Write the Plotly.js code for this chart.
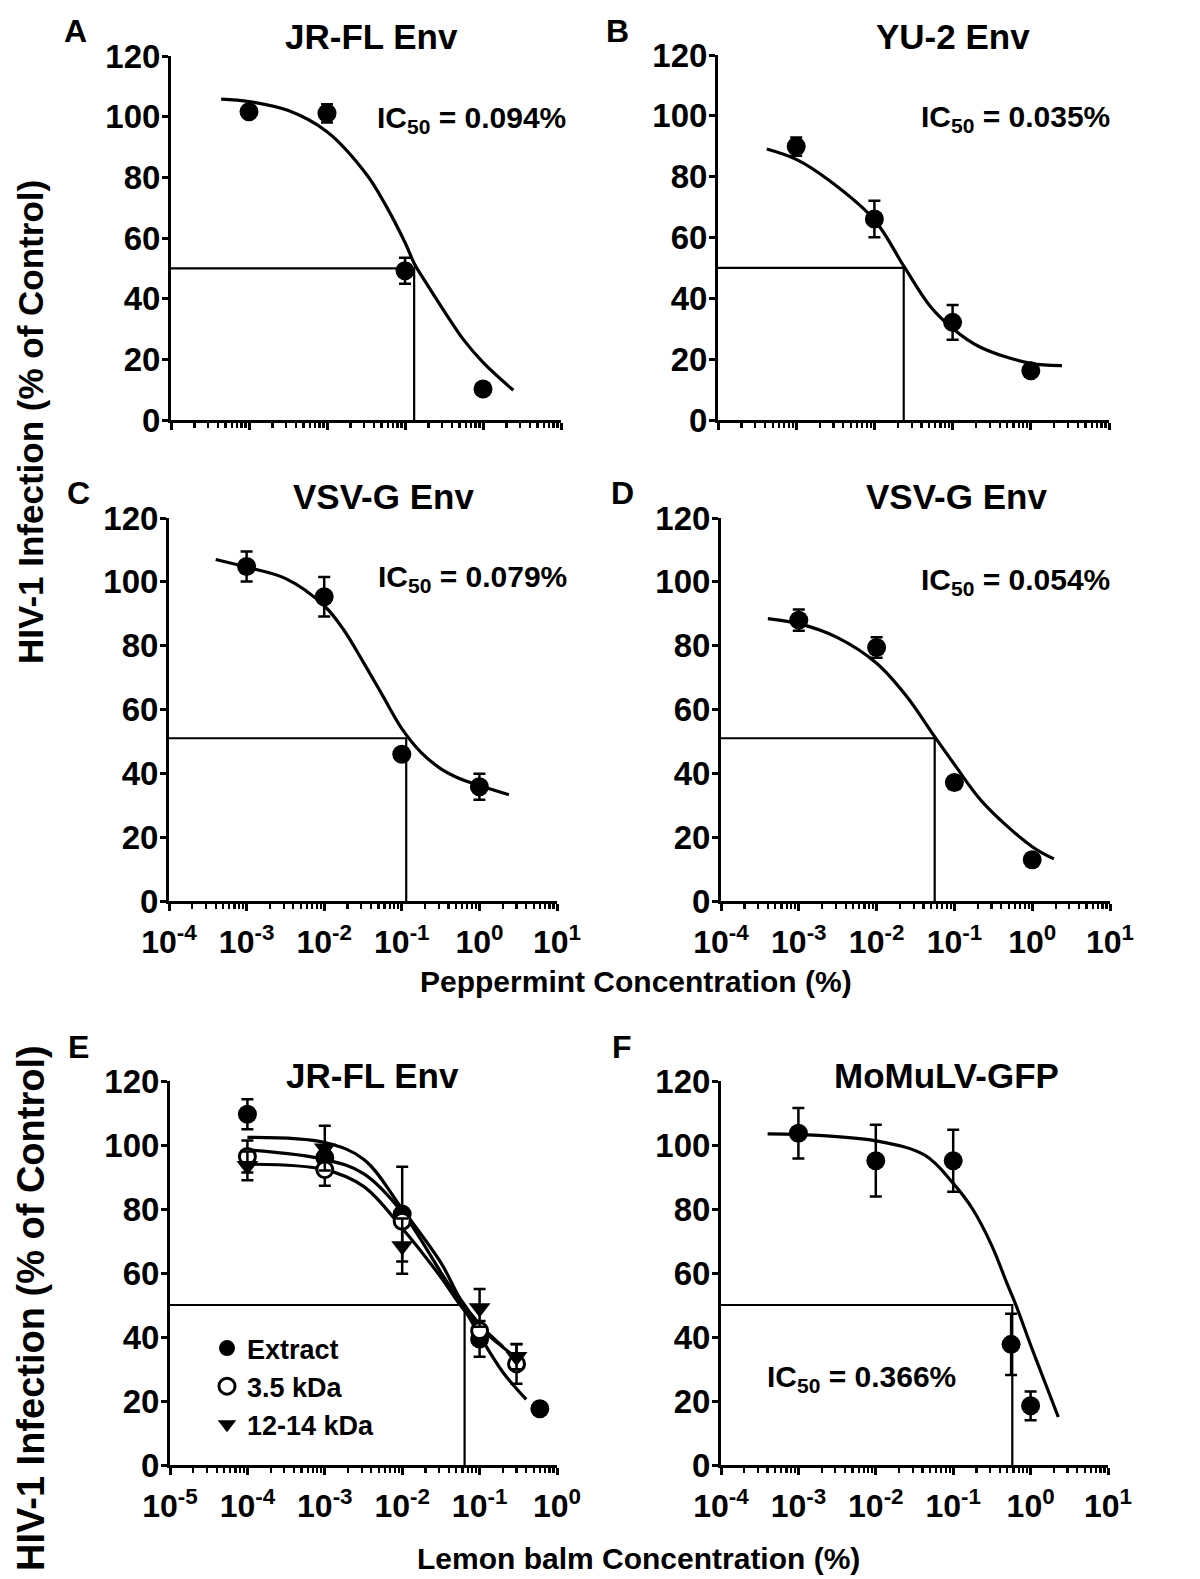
<!DOCTYPE html>
<html><head><meta charset="utf-8">
<script src="https://cdn.plot.ly/plotly-3.0.1.min.js"></script>
<style>html,body{margin:0;padding:0;background:#fff;}#chart{width:1200px;height:1579px;}</style>
</head><body><div id="chart"></div><script>
// ---------------- DATA ----------------
// Panel A: JR-FL Env (peppermint)
const aConc = [0.001, 0.01, 0.1, 1];
const aVal  = [101.6, 101.1, 49.2, 10.2];
const aErr  = [0, 3, 4.3, 0];
const aFitX = [4.4e-4, 1e-3, 3.2e-3, 1e-2, 3.2e-2, 5.6e-2, 0.1, 0.132, 0.178, 0.316, 0.562, 1.0, 2.45];
const aFitY = [105.8, 105.0, 102.0, 95.0, 81.0, 71.0, 58.5, 51.5, 46.0, 36.0, 26.5, 19.0, 9.8];
const aIC = 0.131, aLevel = 50, aText = 'IC<sub>50</sub> = 0.094%';

// Panel B: YU-2 Env (peppermint)
const bConc = [0.001, 0.01, 0.1, 1];
const bVal  = [89.9, 66.1, 32.1, 16.2];
const bErr  = [3, 6, 5.7, 0];
const bFitX = [4.2e-4, 1e-3, 2.6e-3, 1e-2, 2.4e-2, 5.2e-2, 0.1, 0.22, 1.0, 2.5];
const bFitY = [89.1, 85.7, 78.9, 65.8, 50.4, 37.3, 30.1, 24.1, 18.6, 17.9];
const bIC = 0.0237, bLevel = 50, bText = 'IC<sub>50</sub> = 0.035%';

// Panel C: VSV-G Env (peppermint)
const cConc = [0.001, 0.01, 0.1, 1];
const cVal  = [104.8, 95.3, 46.0, 35.8];
const cErr  = [4.7, 6.2, 0, 4.1];
const cFitX = [4.0e-4, 1e-3, 3.2e-3, 1e-2, 1.78e-2, 3.16e-2, 5.62e-2, 0.1, 0.178, 0.316, 0.562, 1.0, 2.4];
const cFitY = [107.0, 104.6, 101.0, 92.5, 85.0, 75.0, 64.5, 54.0, 46.5, 41.5, 38.3, 36.2, 33.3];
const cIC = 0.114, cLevel = 51, cText = 'IC<sub>50</sub> = 0.079%';

// Panel D: VSV-G Env (peppermint)
const dConc = [0.001, 0.01, 0.1, 1];
const dVal  = [88.0, 79.4, 37.1, 12.9];
const dErr  = [3.3, 3.2, 0, 2];
const dFitX = [4.0e-4, 1e-3, 3.1e-3, 1e-2, 2.4e-2, 5.6e-2, 0.1, 0.23, 1.0, 1.9];
const dFitY = [88.5, 86.9, 82.6, 74.5, 64.3, 51.4, 42.8, 31.0, 17.0, 13.2];
const dIC = 0.0558, dLevel = 51, dText = 'IC<sub>50</sub> = 0.054%';

// Panel E: JR-FL Env (lemon balm), three preparations
const eExtractConc = [1e-4, 1e-3, 1e-2, 1e-1, 0.6];
const eExtractVal  = [109.6, 96, 78.4, 39.4, 17.6];
const eExtractErr  = [4.7, 0, 14.8, 5.6, 0];
const eSmallConc   = [1e-4, 1e-3, 1e-2, 1e-1, 0.3];
const eSmallVal    = [96.4, 92.3, 76.2, 42, 31.6];
const eSmallErr    = [5, 5, 0, 0, 6.2];
const eLargeConc   = [1e-4, 1e-3, 1e-2, 1e-1, 0.3];
const eLargeVal    = [93.5, 99, 68.4, 49.1, 33.8];
const eLargeErr    = [4.5, 7, 8.6, 5.9, 3.9];
const eExtractFitX = [1e-4, 1e-3, 3.2e-3, 1e-2, 3.2e-2, 5.6e-2, 0.1, 0.2, 0.4];
const eExtractFitY = [98.5, 95.5, 91, 79, 60, 51, 40.5, 29, 20.5];
const eSmallFitX   = [1e-4, 1e-3, 3.2e-3, 1e-2, 3.2e-2, 5.6e-2, 0.1, 0.28];
const eSmallFitY   = [94, 92.3, 87, 74, 58.5, 50, 43, 34];
const eLargeFitX   = [1e-4, 1e-3, 3.2e-3, 1e-2, 3.2e-2, 5.6e-2, 0.1, 0.2];
const eLargeFitY   = [102.4, 100.8, 95.5, 80, 63, 52, 44, 37];
const eIC = 0.064, eLevel = 50;
const eNames = ['Extract', '3.5 kDa', '12-14 kDa'];

// Panel F: MoMuLV-GFP (lemon balm)
const fConc = [0.001, 0.01, 0.1, 0.56, 1.0];
const fVal  = [103.7, 95.1, 95.1, 37.7, 18.5];
const fErr  = [7.9, 11.2, 9.7, 9.6, 4.5];
const fFitX = [4.0e-4, 1e-3, 1e-2, 4.3e-2, 0.1, 0.178, 0.316, 0.5, 0.646, 1.0, 1.58, 2.28];
const fFitY = [103.5, 103.3, 101.3, 96.8, 88.0, 80.0, 68.5, 56.5, 50.0, 37.5, 25.0, 15.0];
const fIC = 0.58, fLevel = 50, fText = 'IC<sub>50</sub> = 0.366%';

// Titles and tick labels
const panelTitles = ['JR-FL Env', 'YU-2 Env', 'VSV-G Env', 'VSV-G Env', 'JR-FL Env', 'MoMuLV-GFP'];
const panelLetters = ['A', 'B', 'C', 'D', 'E', 'F'];
const yTicks = [0, 20, 40, 60, 80, 100, 120];
const decadesPep = [1e-4, 1e-3, 1e-2, 1e-1, 1e0, 1e1];
const decadesPepText = ['10<sup>-4</sup>', '10<sup>-3</sup>', '10<sup>-2</sup>', '10<sup>-1</sup>', '10<sup>0</sup>', '10<sup>1</sup>'];
const decadesLem = [1e-5, 1e-4, 1e-3, 1e-2, 1e-1, 1e0];
const decadesLemText = ['10<sup>-5</sup>', '10<sup>-4</sup>', '10<sup>-3</sup>', '10<sup>-2</sup>', '10<sup>-1</sup>', '10<sup>0</sup>'];
const yTitle = 'HIV-1 Infection (% of Control)';
const xTitlePep = 'Peppermint Concentration (%)';
const xTitleLem = 'Lemon balm Concentration (%)';

// ---------------- LAYOUT GEOMETRY ----------------
const W = 1200, H = 1579;
const FONT = 'Liberation Sans, Arial, Helvetica, sans-serif';
const fx = p => p / W;
const fy = p => (H - p) / H;

const panels = [
  {px: [171, 561], py: [56, 420],   xr: [-4, 1], dec: decadesPep, decText: decadesPepText, labels: false},
  {px: [718, 1109], py: [55, 420],  xr: [-4, 1], dec: decadesPep, decText: decadesPepText, labels: false},
  {px: [169, 557], py: [518, 901],  xr: [-4, 1], dec: decadesPep, decText: decadesPepText, labels: true},
  {px: [721, 1110], py: [518, 901], xr: [-4, 1], dec: decadesPep, decText: decadesPepText, labels: true},
  {px: [170, 557], py: [1081, 1465], xr: [-5, 0], dec: decadesLem, decText: decadesLemText, labels: true},
  {px: [721, 1108], py: [1081, 1465], xr: [-4, 1], dec: decadesPep, decText: decadesPepText, labels: true}
];

function minorVals(dec) {
  const out = [];
  dec.forEach(d => { for (let m = 2; m <= 9; m++) out.push(d * m); });
  return out;
}

const layout = {
  width: W, height: H,
  margin: {l: 0, r: 0, t: 0, b: 0},
  paper_bgcolor: '#ffffff', plot_bgcolor: 'rgba(0,0,0,0)',
  font: {family: FONT, color: '#000', size: 30, weight: 700},
  showlegend: true,
  legend: {
    x: fx(207), y: fy(1324), xanchor: 'left', yanchor: 'top',
    bgcolor: 'rgba(0,0,0,0)', borderwidth: 0,
    font: {family: FONT, size: 27, color: '#000', weight: 700},
    itemwidth: 30, tracegroupgap: 0
  },
  annotations: [],
  shapes: []
};

panels.forEach((p, i) => {
  const n = i === 0 ? '' : String(i + 1);
  layout['xaxis' + n] = {
    type: 'log', range: p.xr, domain: [fx(p.px[0]), fx(p.px[1])],
    anchor: 'y' + n, showgrid: false, zeroline: false,
    showline: true, linecolor: '#000', linewidth: 3,
    ticks: 'outside', ticklen: 7, tickwidth: 3, tickcolor: '#000',
    tickmode: 'array', tickvals: p.dec, ticktext: p.decText,
    showticklabels: p.labels, ticklabelstandoff: 4,
    tickfont: {family: FONT, size: 32, color: '#000', weight: 700},
    minor: {tickmode: 'array', tickvals: minorVals(p.dec.slice(0, 5)), ticks: 'outside', ticklen: 5, tickwidth: 2.2, tickcolor: '#000', showgrid: false}
  };
  layout['yaxis' + n] = {
    range: [0, 120], domain: [fy(p.py[1]), fy(p.py[0])],
    anchor: 'x' + n, showgrid: false, zeroline: false,
    showline: true, linecolor: '#000', linewidth: 3,
    ticks: 'outside', ticklen: 6, tickwidth: 3, tickcolor: '#000',
    tickmode: 'array', tickvals: yTicks, ticklabelstandoff: -5,
    tickfont: {family: FONT, size: 33, color: '#000', weight: 700}
  };
});

// panel titles (pixel centres measured on the figure)
const titleCx = [371, 953, 383, 956, 372, 946];
const titleCy = [36, 36, 496, 496, 1075, 1075];
panelTitles.forEach((t, i) => layout.annotations.push({
  xref: 'paper', yref: 'paper', x: fx(titleCx[i]), y: fy(titleCy[i]),
  text: t, showarrow: false, xanchor: 'center', yanchor: 'middle',
  font: {family: FONT, size: 35, color: '#000', weight: 700}
}));

// panel letters
const letterPos = [[75, 31], [617, 31], [78, 493], [622, 493], [79, 1047], [622, 1047]];
panelLetters.forEach((L, i) => layout.annotations.push({
  xref: 'paper', yref: 'paper', x: fx(letterPos[i][0]), y: fy(letterPos[i][1]),
  text: L, showarrow: false, xanchor: 'center', yanchor: 'middle',
  font: {family: FONT, size: 32, color: '#000', weight: 700}
}));

// IC50 labels
const icLabels = [
  {n: '',  text: aText, x: 471, y: 99},
  {n: '2', text: bText, x: 1015, y: 99},
  {n: '3', text: cText, x: 472, y: 101},
  {n: '4', text: dText, x: 1015, y: 100},
  {n: '6', text: fText, x: 861, y: 27}
];
icLabels.forEach(l => layout.annotations.push({
  xref: 'paper', yref: 'y' + l.n, x: fx(l.x), y: l.y,
  text: l.text, showarrow: false, xanchor: 'center', yanchor: 'middle',
  font: {family: FONT, size: 30, color: '#000', weight: 700}
}));

// axis titles
layout.annotations.push(
  {xref: 'paper', yref: 'paper', x: fx(30), y: fy(422), text: yTitle, textangle: -90, showarrow: false,
   xanchor: 'center', yanchor: 'middle', font: {family: FONT, size: 35, color: '#000', weight: 700}},
  {xref: 'paper', yref: 'paper', x: fx(31), y: fy(1308), text: yTitle, textangle: -90, showarrow: false,
   xanchor: 'center', yanchor: 'middle', font: {family: FONT, size: 38, color: '#000', weight: 700}},
  {xref: 'paper', yref: 'paper', x: fx(636), y: fy(981), text: xTitlePep, showarrow: false,
   xanchor: 'center', yanchor: 'middle', font: {family: FONT, size: 30, color: '#000', weight: 700}},
  {xref: 'paper', yref: 'paper', x: fx(638), y: fy(1558), text: xTitleLem, showarrow: false,
   xanchor: 'center', yanchor: 'middle', font: {family: FONT, size: 30, color: '#000', weight: 700}}
);

// ---------------- TRACES ----------------
const traces = [];
function ax(i) { return i === 0 ? ['x', 'y'] : ['x' + (i + 1), 'y' + (i + 1)]; }
function guide(i, ic, level, xmin) {
  const [xa, ya] = ax(i);
  traces.push({x: [xmin, ic, ic], y: [level, level, 0], xaxis: xa, yaxis: ya, mode: 'lines',
    line: {color: '#000', width: 2.2}, showlegend: false, hoverinfo: 'skip', cliponaxis: false});
}
function fit(i, xs, ys) {
  const [xa, ya] = ax(i);
  traces.push({x: xs, y: ys, xaxis: xa, yaxis: ya, mode: 'lines', line: {color: '#000', width: 3.2, shape: 'spline', smoothing: 1},
    showlegend: false, hoverinfo: 'skip', cliponaxis: false});
}
function pts(i, xs, ys, err, open, symbol, name, legend) {
  const [xa, ya] = ax(i);
  traces.push({x: xs, y: ys, xaxis: xa, yaxis: ya, mode: 'markers', name: name || '',
    marker: {color: open ? '#fff' : '#000', size: open ? 16 : 19, symbol: symbol || 'circle',
             line: {color: '#000', width: open ? 3 : 0}},
    error_y: {type: 'data', array: err, visible: true, color: '#000', thickness: 2.5, width: 6},
    showlegend: !!legend, cliponaxis: false});
}

guide(0, aIC, aLevel, 1e-4); fit(0, aFitX, aFitY); pts(0, aConc, aVal, aErr);
guide(1, bIC, bLevel, 1e-4); fit(1, bFitX, bFitY); pts(1, bConc, bVal, bErr);
guide(2, cIC, cLevel, 1e-4); fit(2, cFitX, cFitY); pts(2, cConc, cVal, cErr);
guide(3, dIC, dLevel, 1e-4); fit(3, dFitX, dFitY); pts(3, dConc, dVal, dErr);
guide(4, eIC, eLevel, 1e-5);
fit(4, eExtractFitX, eExtractFitY); fit(4, eSmallFitX, eSmallFitY); fit(4, eLargeFitX, eLargeFitY);
pts(4, eExtractConc, eExtractVal, eExtractErr, false, 'circle', eNames[0], true);
pts(4, eSmallConc, eSmallVal, eSmallErr, true, 'circle', eNames[1], true);
pts(4, eLargeConc, eLargeVal, eLargeErr, false, 'triangle-down', eNames[2], true);
guide(5, fIC, fLevel, 1e-4); fit(5, fFitX, fFitY); pts(5, fConc, fVal, fErr);

Plotly.newPlot('chart', traces, layout, {staticPlot: true, displayModeBar: false});
</script></body></html>
